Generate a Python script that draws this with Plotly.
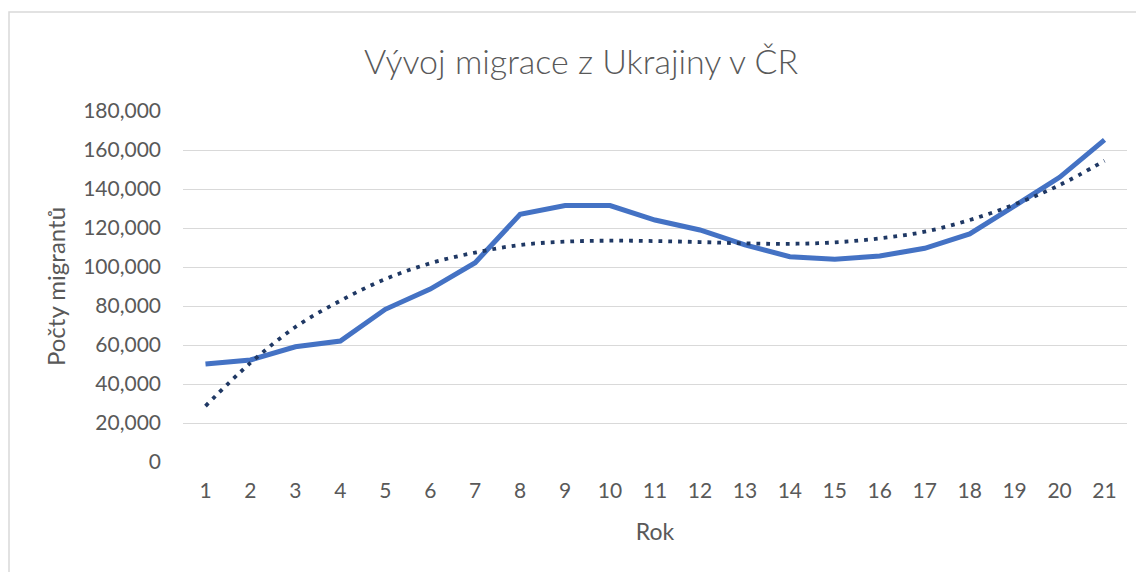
import plotly.graph_objects as go

years = list(range(1, 22))
migrants = [50200, 52300, 59100, 62000, 78300, 88700, 102200, 127000, 131500, 131500,
            124100, 119000, 111300, 105300, 104000, 105600, 109600, 117000, 131300, 146000, 165200]
trend = [28700, 50800, 69200, 82700, 93800, 101900, 107400, 111300, 113000, 113500,
         113300, 112800, 112100, 111900, 112600, 114700, 118100, 124100, 132100, 142000, 154500]
y_ticks = list(range(0, 180001, 20000))

FONT = "Lato"
GREY = "#595959"

fig = go.Figure()
fig.add_trace(go.Scatter(
    x=years, y=migrants, mode="lines",
    line=dict(color="#4472C4", width=5), showlegend=False,
))
fig.add_trace(go.Scatter(
    x=years, y=trend, mode="lines", line_shape="spline",
    line=dict(color="#1F3864", width=3.8, dash="3.8px,6px"), showlegend=False,
))

# page body adds an 8px offset, so figure coords = screen coords - 8
W, H = 1136, 564
L, R, T, B = 175, 17, 103, 110
pw, ph = W - L - R, H - T - B
x0 = (1 - L) / pw
y0 = (H - B - 4) / ph

fig.update_layout(
    width=W, height=H,
    margin=dict(l=L, r=R, t=T, b=B),
    paper_bgcolor="white", plot_bgcolor="white",
    font=dict(family=FONT, color=GREY),
    title=dict(text="Vývoj migrace z Ukrajiny v ČR", x=573 / W, xanchor="center",
               y=1 - 54 / H, yanchor="middle", yref="container",
               font=dict(family=FONT, size=34, color=GREY, weight=300)),
    xaxis=dict(
        range=[0.5, 21.5], tickmode="array", tickvals=years,
        ticktext=[str(v) for v in years], showgrid=False, zeroline=False,
        showline=False, ticks="", ticklabelstandoff=14,
        tickfont=dict(size=21, color=GREY),
        title=dict(text="Rok", font=dict(size=23, color=GREY), standoff=22),
    ),
    yaxis=dict(
        range=[0, 180000], tickmode="array", tickvals=y_ticks,
        tickformat=",d", showgrid=True, gridcolor="#D9D9D9", gridwidth=1.3,
        zeroline=False, showline=False, ticks="", ticklabelstandoff=21,
        tickfont=dict(size=21, color=GREY),
        title=dict(text="Počty migrantů", font=dict(size=24, color=GREY), standoff=10),
    ),
    shapes=[dict(type="path", xref="paper", yref="paper",
                 path=f"M {x0} -0.5 L {x0} {y0} L 1.2 {y0}",
                 line=dict(color="#D9D9D9", width=1.5), layer="below")],
)

fig.write_html("out.html")
